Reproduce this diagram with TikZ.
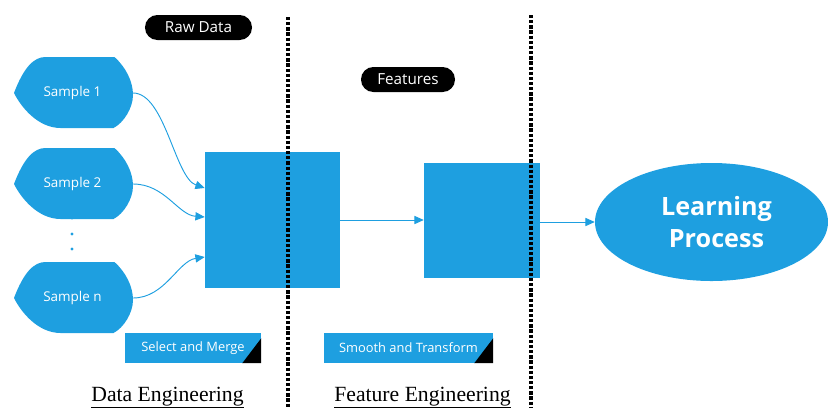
\documentclass[tikz,border=0pt]{standalone}
\usepackage{fontspec}
\setmainfont{Liberation Serif}
\setsansfont{Open Sans}
\usetikzlibrary{arrows.meta,shapes.geometric}
\definecolor{procblue}{RGB}{30,159,224}
\tikzset{
  flow/.style={procblue,line width=0.8pt,-{Triangle[length=8pt,width=7pt]}},
  block/.style={fill=procblue,draw=none,inner sep=0pt},
  pill/.style={fill=black,text=white,rounded corners=3.7mm,minimum height=7.5mm,inner sep=0pt,font=\sffamily\fontsize{13}{15}\selectfont},
  tag/.style={fill=procblue,text=white,minimum height=9mm,inner sep=0pt,font=\sffamily\fontsize{11}{13}\selectfont},
  split/.style={line width=2.8pt,dash pattern=on 2.8pt off 1.6pt},
  caption/.style={font=\fontsize{18.5}{20}\selectfont}
}
\begin{document}
\begin{tikzpicture}[x=0.03cm,y=-0.03cm]
\useasboundingbox (0,0) rectangle (828,407);
% samples of raw data
\foreach \n/\y/\t in {s1/93/Sample 1,s2/184/Sample 2,sn/298/Sample n}{
  \fill[procblue,shift={(73.5,\y)}] (-59.5,0) .. controls (-50,-25) and (-40,-36) .. (-28,-36)
    -- (41,-36) .. controls (52,-26) and (59.5,-12) .. (59.5,2)
    .. controls (59.5,15) and (50,30) .. (40,35) -- (-13,35)
    .. controls (-35,35) and (-52,15) .. cycle;
  \node[text=white,font=\sffamily\fontsize{11.5}{13}\selectfont] (\n) at (72.5,\y) {\t};
  \coordinate (\n-r) at (133,\y);
}
\foreach \y in {218,234,249}
  \fill[procblue] (72,\y) circle (1.3pt);
% blocks
\node[block,minimum width=4.05cm,minimum height=4.08cm] (merge) at (272.5,220) {};
\node[block,minimum width=3.48cm,minimum height=3.45cm] (transform) at (482,220.5) {};
\node[ellipse,fill=procblue,minimum width=6.99cm,minimum height=3.54cm] (learn) at (711.5,222) {};
\node[text=white,align=center,font=\sffamily\bfseries\fontsize{21.5}{27}\selectfont] (lp) at (716.5,222) {Learning\\Process};
% connectors
\draw[flow] (s1-r) .. controls (165,93) and (175,178) .. ([yshift=0.96cm]merge.west);
\draw[flow] (s2-r) .. controls (165,184) and (178,215) .. ([yshift=0.09cm]merge.west);
\draw[flow] (sn-r) .. controls (165,298) and (178,261) .. ([yshift=-1.11cm]merge.west);
\draw[flow] (merge.east) -- (merge.east -| transform.west);
\draw[flow] (learn.west -| transform.east) -- (learn.west);
% separators
\draw[split] (288,17) -- (288,407);
\draw[split] (531,15) -- (531,407);
% labels
\node[pill,minimum width=3.21cm] (raw) at (198.5,27.5) {Raw Data};
\node[pill,minimum width=2.82cm] (feat) at (408,79.5) {Features};
\node[tag,minimum width=4.08cm] (sel) at (193,348) {Select and Merge};
\fill (sel.south east) -- ++(0,-25) -- ++(-19,25) -- cycle;
\node[tag,minimum width=5.07cm] (smo) at (408.5,348) {Smooth and Transform};
\fill (smo.south east) -- ++(0,-25) -- ++(-19,25) -- cycle;
\node[caption,anchor=base] (de) at (167.5,401) {\underline{Data Engineering}};
\node[caption,anchor=base] (fe) at (422.5,401) {\underline{Feature Engineering}};
\end{tikzpicture}
\end{document}
